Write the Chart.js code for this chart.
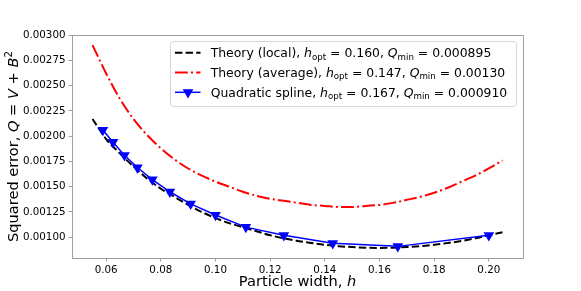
<!DOCTYPE html>
<html>
<head>
<meta charset="utf-8">
<script src="https://cdn.jsdelivr.net/npm/chart.js@4/dist/chart.umd.min.js"></script>
<style>
  body { margin: 0; background: #fff; }
  canvas { display: block; }
</style>
</head>
<body>
<canvas id="chart" width="581" height="291"></canvas>
<script>
// particle width h for the theory curves
const hTheory = [0.055, 0.060, 0.065, 0.070, 0.075, 0.080, 0.085, 0.090, 0.095, 0.100,
                 0.105, 0.110, 0.115, 0.120, 0.125, 0.130, 0.135, 0.140, 0.145, 0.150,
                 0.155, 0.160, 0.165, 0.170, 0.175, 0.180, 0.185, 0.190, 0.195, 0.200, 0.205];
// Theory (local)
const qLocal = [0.00217, 0.00197, 0.00183, 0.00170, 0.00158, 0.00148, 0.00140, 0.00132, 0.00125, 0.00119,
                0.00114, 0.00110, 0.00106, 0.00102, 0.00099, 0.000964, 0.000943, 0.000926, 0.000912, 0.000903,
                0.000897, 0.000895, 0.000897, 0.000903, 0.000912, 0.000926, 0.000943, 0.000964, 0.000989, 0.00102, 0.00105];
// Theory (average)
const qAverage = [0.00290, 0.00262, 0.00237, 0.00217, 0.00201, 0.00188, 0.00177, 0.00168, 0.00161, 0.00155,
                  0.00150, 0.00145, 0.00141, 0.00138, 0.00136, 0.00134, 0.00132, 0.00131, 0.00130, 0.00130,
                  0.00131, 0.00132, 0.00134, 0.00137, 0.00140, 0.00144, 0.00149, 0.00155, 0.00161, 0.00168, 0.00176];
// Quadratic spline
const hSpline = [0.0588, 0.0625, 0.0667, 0.0714, 0.0769, 0.0833, 0.0909, 0.1000, 0.1111, 0.1250, 0.1429, 0.1667, 0.2000];
const qSpline = [0.00206, 0.00194, 0.00181, 0.00169, 0.00157, 0.00145, 0.00133, 0.00122, 0.00110, 0.00102, 0.00094, 0.00091, 0.00102];

const xTicks = [0.06, 0.08, 0.10, 0.12, 0.14, 0.16, 0.18, 0.20];
const yTicks = [0.00100, 0.00125, 0.00150, 0.00175, 0.00200, 0.00225, 0.00250, 0.00275, 0.00300];

const FONT = '"DejaVu Sans", sans-serif';
const SPINE = '#a0a0a0';

const legendRows = [
  { kind: 'local', parts: [
    { t: 'Theory (local), ' }, { t: 'h', it: 1 }, { t: 'opt', sub: 1 }, { t: ' = 0.160, ' },
    { t: 'Q', it: 1 }, { t: 'min', sub: 1 }, { t: ' = 0.000895' }] },
  { kind: 'average', parts: [
    { t: 'Theory (average), ' }, { t: 'h', it: 1 }, { t: 'opt', sub: 1 }, { t: ' = 0.147, ' },
    { t: 'Q', it: 1 }, { t: 'min', sub: 1 }, { t: ' = 0.00130' }] },
  { kind: 'spline', parts: [
    { t: 'Quadratic spline, ' }, { t: 'h', it: 1 }, { t: 'opt', sub: 1 }, { t: ' = 0.167, ' },
    { t: 'Q', it: 1 }, { t: 'min', sub: 1 }, { t: ' = 0.000910' }] }
];

function drawRich(ctx, x, y, parts, size) {
  let cx = x;
  parts.forEach(p => {
    const s = (p.sub || p.sup) ? size * 0.7 : size;
    ctx.font = (p.it ? 'italic ' : '') + s + 'px ' + FONT;
    const dy = p.sub ? size * 0.2 : (p.sup ? -size * 0.4 : 0);
    ctx.fillText(p.t, cx, y + dy);
    cx += ctx.measureText(p.t).width;
  });
  return cx;
}

function richWidth(ctx, parts, size) {
  let w = 0;
  parts.forEach(p => {
    const s = (p.sub || p.sup) ? size * 0.7 : size;
    ctx.font = (p.it ? 'italic ' : '') + s + 'px ' + FONT;
    w += ctx.measureText(p.t).width;
  });
  return w;
}

const decorPlugin = {
  id: 'decor',
  afterDraw(chart) {
    const ctx = chart.ctx;
    const a = chart.chartArea;
    ctx.save();
    // top and right spines
    ctx.strokeStyle = SPINE;
    ctx.lineWidth = 1;
    ctx.beginPath();
    ctx.moveTo(a.left, a.top + 0.5);
    ctx.lineTo(a.right + 0.5, a.top + 0.5);
    ctx.lineTo(a.right + 0.5, a.bottom);
    ctx.stroke();

    // axis titles
    ctx.fillStyle = '#000';
    ctx.textBaseline = 'alphabetic';
    ctx.textAlign = 'left';
    const xt = [{ t: 'Particle width, ' }, { t: 'h', it: 1 }];
    const xw = richWidth(ctx, xt, 14.6);
    drawRich(ctx, (a.left + a.right) / 2 - xw / 2, 286, xt, 14.6);

    const yt = [{ t: 'Squared error, ' }, { t: 'Q', it: 1 }, { t: ' = ' }, { t: 'V', it: 1 },
                { t: ' + ' }, { t: 'B', it: 1 }, { t: '2', sup: 1 }];
    const yw = richWidth(ctx, yt, 14.6);
    ctx.save();
    ctx.translate(17.5, (a.top + a.bottom) / 2);
    ctx.rotate(-Math.PI / 2);
    drawRich(ctx, -yw / 2, 0, yt, 14.6);
    ctx.restore();

    // legend
    const lx = 170.5, ly = 41.5, lw = 346, lh = 65, r = 3;
    ctx.beginPath();
    ctx.moveTo(lx + r, ly);
    ctx.arcTo(lx + lw, ly, lx + lw, ly + lh, r);
    ctx.arcTo(lx + lw, ly + lh, lx, ly + lh, r);
    ctx.arcTo(lx, ly + lh, lx, ly, r);
    ctx.arcTo(lx, ly, lx + lw, ly, r);
    ctx.closePath();
    ctx.fillStyle = 'rgba(255,255,255,0.8)';
    ctx.fill();
    ctx.strokeStyle = 'rgba(204,204,204,0.8)';
    ctx.stroke();

    const rowsY = [52.7, 72.5, 92.3];
    legendRows.forEach((row, i) => {
      const cy = rowsY[i];
      ctx.save();
      ctx.lineCap = 'butt';
      ctx.beginPath();
      ctx.moveTo(175, cy);
      ctx.lineTo(200.5, cy);
      if (row.kind === 'local') {
        ctx.strokeStyle = '#000'; ctx.lineWidth = 2; ctx.setLineDash([7.4, 3.2]);
      } else if (row.kind === 'average') {
        ctx.strokeStyle = '#ff0000'; ctx.lineWidth = 2; ctx.setLineDash([12.8, 3.2, 2, 3.2]);
      } else {
        ctx.strokeStyle = '#0000ff'; ctx.lineWidth = 1.5; ctx.setLineDash([]);
      }
      ctx.stroke();
      if (row.kind === 'spline') {
        const rr = 6.2, mx = 188, my = cy;
        ctx.beginPath();
        ctx.moveTo(mx, my + rr);
        ctx.lineTo(mx - rr * 0.866, my - rr * 0.5);
        ctx.lineTo(mx + rr * 0.866, my - rr * 0.5);
        ctx.closePath();
        ctx.fillStyle = '#0000ff';
        ctx.fill();
      }
      ctx.restore();
      ctx.fillStyle = '#000';
      drawRich(ctx, 210.7, cy + 4.4, row.parts, 12.4);
    });
    ctx.restore();
  }
};

const toPoints = (xs, ys) => xs.map((x, i) => ({ x: x, y: ys[i] }));

new Chart(document.getElementById('chart').getContext('2d'), {
  type: 'line',
  data: {
    datasets: [
      {
        label: 'Theory (local)',
        data: toPoints(hTheory, qLocal),
        borderColor: '#000000',
        borderWidth: 2,
        borderDash: [7.4, 3.2],
        pointRadius: 0,
        cubicInterpolationMode: 'monotone',
        order: 2
      },
      {
        label: 'Theory (average)',
        data: toPoints(hTheory, qAverage),
        borderColor: '#ff0000',
        borderWidth: 2,
        borderDash: [12.8, 3.2, 2, 3.2],
        pointRadius: 0,
        cubicInterpolationMode: 'monotone',
        order: 1
      },
      {
        label: 'Quadratic spline',
        data: toPoints(hSpline, qSpline),
        borderColor: '#0000ff',
        backgroundColor: '#0000ff',
        borderWidth: 1.5,
        pointStyle: 'triangle',
        pointRotation: 180,
        pointRadius: 6.2,
        pointBorderWidth: 0,
        tension: 0,
        order: 0
      }
    ]
  },
  options: {
    responsive: false,
    animation: false,
    devicePixelRatio: 1,
    layout: { padding: { top: 35, right: 58, left: 0, bottom: 0 } },
    plugins: {
      legend: { display: false },
      tooltip: { enabled: false }
    },
    scales: {
      x: {
        type: 'linear',
        min: 0.0475,
        max: 0.2125,
        afterBuildTicks: s => { s.ticks = xTicks.map(v => ({ value: v })); },
        afterFit: s => { s.height = 33; },
        grid: { drawOnChartArea: false, drawTicks: true, tickLength: 3.5, color: SPINE },
        border: { color: SPINE, width: 1 },
        ticks: {
          color: '#000',
          font: { family: FONT, size: 10.3 },
          padding: 3,
          maxRotation: 0,
          callback: v => v.toFixed(2)
        }
      },
      y: {
        type: 'linear',
        min: 0.000795,
        max: 0.0030,
        afterBuildTicks: s => { s.ticks = yTicks.map(v => ({ value: v })); },
        afterFit: s => { s.width = 72; },
        grid: { drawOnChartArea: false, drawTicks: true, tickLength: 3.5, color: SPINE },
        border: { color: SPINE, width: 1 },
        ticks: {
          color: '#000',
          font: { family: FONT, size: 10.3 },
          padding: 3,
          callback: v => v.toFixed(5)
        }
      }
    }
  },
  plugins: [decorPlugin]
});
</script>
</body>
</html>
